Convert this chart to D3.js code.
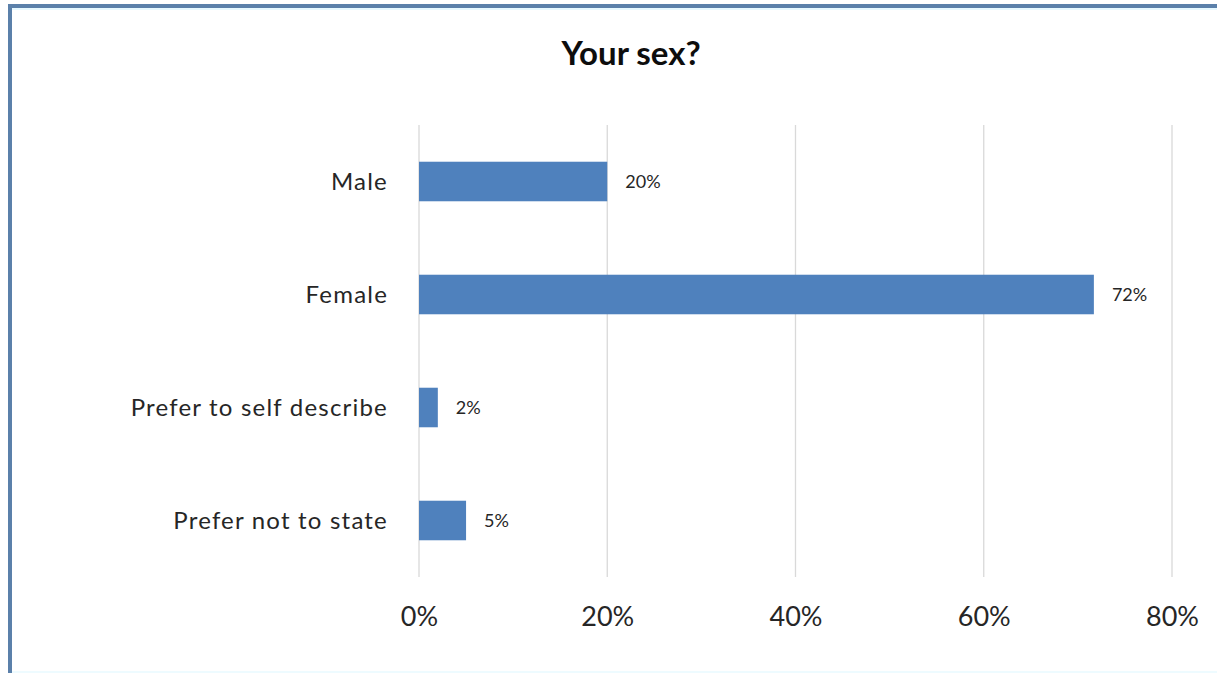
<!DOCTYPE html>
<html>
<head>
<meta charset="utf-8">
<script src="https://cdn.jsdelivr.net/npm/d3@7"></script>
<style>
  html, body { margin: 0; padding: 0; background: #ffffff; }
  svg { display: block; }
</style>
</head>
<body>
<svg id="chart" width="1217" height="673"></svg>
<script>
const title = "Your sex?";
const categories = ["Male", "Female", "Prefer to self describe", "Prefer not to state"];
const values = [0.20, 0.717, 0.02, 0.05];
const valueLabels = ["20%", "72%", "2%", "5%"];
const tickValues = [0, 0.2, 0.4, 0.6, 0.8];

const W = 1217, H = 673;
const svg = d3.select("#chart");

// frame
svg.append("rect").attr("x", 0).attr("y", 0).attr("width", W).attr("height", H).attr("fill", "#ffffff");
svg.append("rect").attr("x", 8).attr("y", 4).attr("width", W - 8).attr("height", 4).attr("fill", "#5b80aa");
svg.append("rect").attr("x", 8).attr("y", 4).attr("width", 4).attr("height", H - 4).attr("fill", "#5b80aa");
svg.append("rect").attr("x", 12).attr("y", 8).attr("width", W - 12).attr("height", 2).attr("fill", "#e6f8ff");
svg.append("rect").attr("x", 12).attr("y", 671).attr("width", W - 12).attr("height", 2).attr("fill", "#eefbff");

const plot = { left: 419, right: 1172, top: 125, bottom: 577 };

const x = d3.scaleLinear().domain([0, 0.8]).range([plot.left, plot.right]);
const y = d3.scaleBand().domain(categories).range([plot.top, plot.bottom]).paddingInner(0.65).paddingOuter(0.325);

// gridlines
svg.append("g").selectAll("line").data(tickValues).join("line")
  .attr("x1", d => x(d)).attr("x2", d => x(d))
  .attr("y1", plot.top).attr("y2", plot.bottom)
  .attr("stroke", "#d9d9d9").attr("stroke-width", 1.3);

// x axis labels
const xAxis = d3.axisBottom(x).tickValues(tickValues).tickFormat(d3.format(".0%")).tickSize(0).tickPadding(0);
const gx = svg.append("g").attr("transform", `translate(0, 607)`).call(xAxis);
gx.select(".domain").remove();
gx.selectAll("text")
  .attr("font-family", "Lato, 'Open Sans', sans-serif")
  .attr("font-size", 27)
  .attr("fill", "#262626")
  .attr("dy", "0.72em");

// y axis labels
const yAxis = d3.axisLeft(y).tickSize(0).tickPadding(31);
const gy = svg.append("g").attr("transform", `translate(${plot.left}, 0)`).call(yAxis);
gy.select(".domain").remove();
gy.selectAll("text")
  .attr("font-family", "Lato, 'Open Sans', sans-serif")
  .attr("font-size", 24)
  .attr("letter-spacing", "1.2px")
  .attr("fill", "#262626")
  .attr("dy", "0.36em");

// bars
svg.append("g").selectAll("rect").data(categories).join("rect")
  .attr("x", x(0))
  .attr("y", d => y(d))
  .attr("width", (d, i) => x(values[i]) - x(0))
  .attr("height", y.bandwidth())
  .attr("fill", "#4f81bd");

// value labels
svg.append("g").selectAll("text").data(categories).join("text")
  .attr("x", (d, i) => x(values[i]) + 18)
  .attr("y", d => y(d) + y.bandwidth() / 2)
  .attr("dy", "0.36em")
  .attr("font-family", "Lato, 'Open Sans', sans-serif")
  .attr("font-size", 18)
  .attr("fill", "#262626")
  .text((d, i) => valueLabels[i]);

// title
svg.append("text")
  .attr("x", 631).attr("y", 65)
  .attr("text-anchor", "middle")
  .attr("font-family", "Lato, 'Open Sans', sans-serif")
  .attr("font-weight", "bold")
  .attr("font-size", 33)
  .attr("fill", "#0d0d0d")
  .text(title);
</script>
</body>
</html>
